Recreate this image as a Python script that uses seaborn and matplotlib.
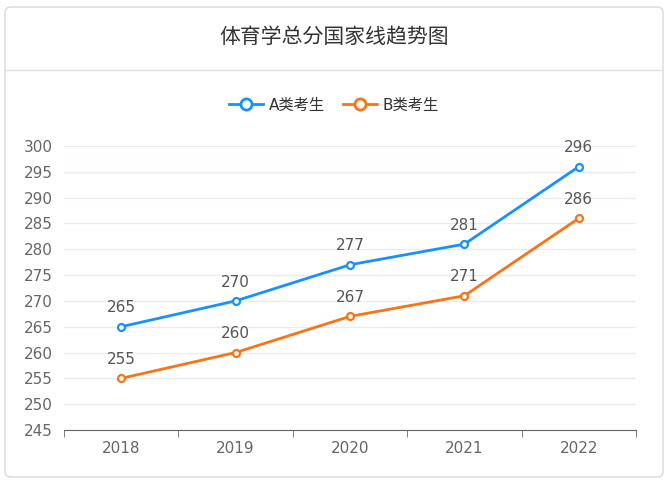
import matplotlib
matplotlib.use("Agg")
import matplotlib.pyplot as plt
from matplotlib import font_manager
from matplotlib.patches import FancyBboxPatch
from matplotlib.lines import Line2D
import seaborn as sns
import pandas as pd
import numpy as np

# pick whichever CJK family matplotlib actually registered
cjk = [f.name for f in font_manager.fontManager.ttflist if "CJK" in f.name]
plt.rcParams["font.family"] = ["DejaVu Sans"] + sorted(set(cjk))

years = ["2018", "2019", "2020", "2021", "2022"]
a_scores = [265, 270, 277, 281, 296]
b_scores = [255, 260, 267, 271, 286]
series_names = ["A类考生", "B类考生"]
colors = ["#1890ff", "#fa7316"]

df = pd.DataFrame({
    "x": list(range(len(years))) * 2,
    "score": a_scores + b_scores,
    "group": [series_names[0]] * len(years) + [series_names[1]] * len(years),
})

fig = plt.figure(figsize=(6.68, 4.82), dpi=100)

# card background with border and title separator
card = FancyBboxPatch((5 / 668, 5 / 482), 658 / 668, 470 / 482,
                      boxstyle="round,pad=0,rounding_size=0.01",
                      transform=fig.transFigure, facecolor="white",
                      edgecolor="#d9d9d9", linewidth=1, zorder=-10)
fig.patches.append(card)
fig.add_artist(Line2D([5 / 668, 663 / 668], [1 - 70 / 482] * 2,
                      transform=fig.transFigure, color="#e0e0e0", lw=1))
fig.text(0.5, 1 - 37 / 482, "体育学总分国家线趋势图", ha="center", va="center",
         fontsize=15, color="#333333")

ax = fig.add_axes([64 / 668, 52 / 482, 572 / 668, 284 / 482])
ax.set_zorder(5)
ax.patch.set_alpha(0)
sns.lineplot(data=df, x="x", y="score", hue="group", palette=colors, ax=ax,
             linewidth=2, marker="o", markersize=5, markerfacecolor="white",
             markeredgewidth=1.6, legend=False)
for line, c in zip(ax.lines, colors):
    line.set_markeredgecolor(c)

for vals in (a_scores, b_scores):
    for i, v in enumerate(vals):
        ax.text(i, v + 2.2, str(v), ha="center", va="bottom", fontsize=11, color="#555555")

ax.set_xlim(-0.5, len(years) - 0.5)
ax.set_ylim(245, 300)
ax.set_yticks(range(245, 301, 5))
ax.set_xticks(range(len(years)))
ax.set_xticklabels(years)
ax.set_xticks(np.arange(-0.5, len(years), 1), minor=True)
ax.tick_params(axis="x", which="major", length=0, pad=8, labelsize=11, labelcolor="#666666")
ax.tick_params(axis="x", which="minor", length=5, color="#666666")
ax.tick_params(axis="y", length=0, labelsize=11, labelcolor="#666666", pad=8)
ax.grid(axis="y", color="#e6ecf3", lw=1)
ax.set_axisbelow(True)
for s in ["top", "right", "left"]:
    ax.spines[s].set_visible(False)
ax.spines["bottom"].set_color("#666666")
ax.set_xlabel("")
ax.set_ylabel("")

handles = [Line2D([], [], color=c, lw=2, marker="o", markersize=8,
                  markerfacecolor="white", markeredgewidth=2) for c in colors]
fig.legend(handles, series_names, loc="center", bbox_to_anchor=(0.5, 1 - 105 / 482),
           ncol=2, frameon=False, fontsize=11, handlelength=2.2, columnspacing=1.2,
           handletextpad=0.4, labelcolor="#333333")

fig.savefig("out.png", dpi=100)
